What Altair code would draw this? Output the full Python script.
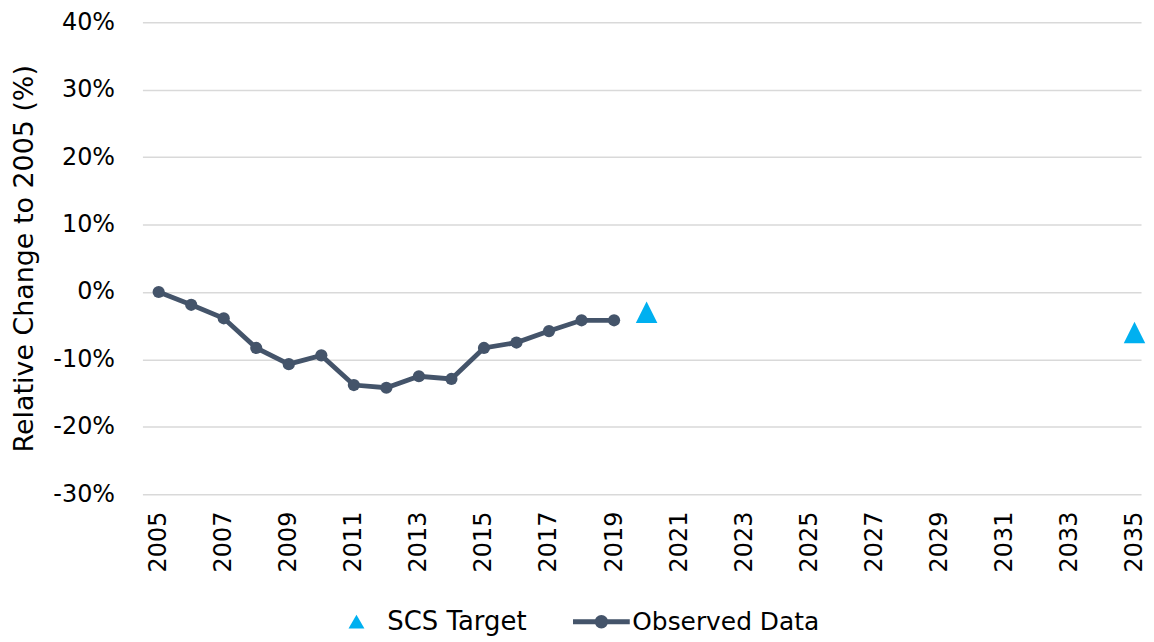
import altair as alt
import pandas as pd

# ---- data ----
obs_years = list(range(2005, 2020))
obs_values = [0.0, -1.9, -3.9, -8.3, -10.7, -9.4, -13.8, -14.2, -12.5, -12.9,
              -8.3, -7.5, -5.8, -4.2, -4.2]
target_years = [2020, 2035]
target_values = [-3.0, -6.0]
x_tick_years = list(range(2005, 2036, 2))
y_ticks = [-30, -20, -10, 0, 10, 20, 30, 40]
series_obs = "Observed Data"
series_tgt = "SCS Target"

obs = pd.DataFrame({"year": obs_years, "value": obs_values, "series": series_obs})
tgt = pd.DataFrame({"year": target_years, "value": target_values, "series": series_tgt})

FONT = "DejaVu Sans"
LINE_COL = "#44546A"
TRI_COL = "#00B0F0"
LINE_SYMBOL = "M-1,0L1,0M-0.15,0A0.15,0.15 0 1,0 0.15,0A0.15,0.15 0 1,0 -0.15,0"
TRI_PATH = "M0,-1L1,1L-1,1Z"

x = alt.X(
    "year:Q",
    scale=alt.Scale(domain=[2004.5, 2035.2], nice=False, zero=False),
    axis=alt.Axis(values=x_tick_years, format="d", labelAngle=270, grid=False,
                  ticks=False, domain=False, labelPadding=17, title=None),
)
y = alt.Y(
    "value:Q",
    scale=alt.Scale(domain=[-30, 40], nice=False),
    axis=alt.Axis(values=y_ticks, labelExpr="datum.value + '%'", grid=True,
                  ticks=False, domain=False, labelPadding=28, titlePadding=14,
                  title="Relative Change to 2005 (%)"),
)

line = alt.Chart(obs).mark_line(strokeWidth=4.8).encode(
    x=x, y=y,
    stroke=alt.Stroke(
        "series:N",
        scale=alt.Scale(domain=[series_obs], range=[LINE_COL]),
        legend=alt.Legend(orient="none", legendX=430, legendY=571, title=None,
                          symbolType=LINE_SYMBOL, symbolSize=3249,
                          symbolStrokeWidth=5, symbolFillColor=LINE_COL,
                          labelOffset=0, labelFontSize=25, labelLimit=400),
    ),
)

pts = alt.Chart(obs).mark_circle(size=150, color=LINE_COL, opacity=1).encode(x=x, y=y)

tri = alt.Chart(tgt).mark_point(shape=TRI_PATH, filled=True, size=467, opacity=1).encode(
    x=x, y=y,
    color=alt.Color(
        "series:N",
        scale=alt.Scale(domain=[series_tgt], range=[TRI_COL]),
        legend=alt.Legend(orient="none", legendX=202, legendY=589, title=None,
                          symbolType="triangle-up", symbolSize=256,
                          labelOffset=18, labelFontSize=26, labelLimit=400),
    ),
)

chart = (
    alt.layer(line, pts, tri)
    .properties(
        width=1003, height=474,
        autosize=alt.AutoSizeParams(type="none"),
        padding={"left": 135, "top": 13, "right": 5, "bottom": 145},
    )
    .configure_view(stroke=None)
    .configure_axis(labelFont=FONT, labelFontSize=24, labelColor="#000000",
                    titleFont=FONT, titleFontSize=27, titleColor="#000000",
                    titleFontWeight="normal", gridColor="#D9D9D9", gridWidth=1.5)
    .configure_legend(labelFont=FONT, labelColor="#000000", padding=0)
)

chart.save("out.html", embed_options={"renderer": "svg", "actions": False})
